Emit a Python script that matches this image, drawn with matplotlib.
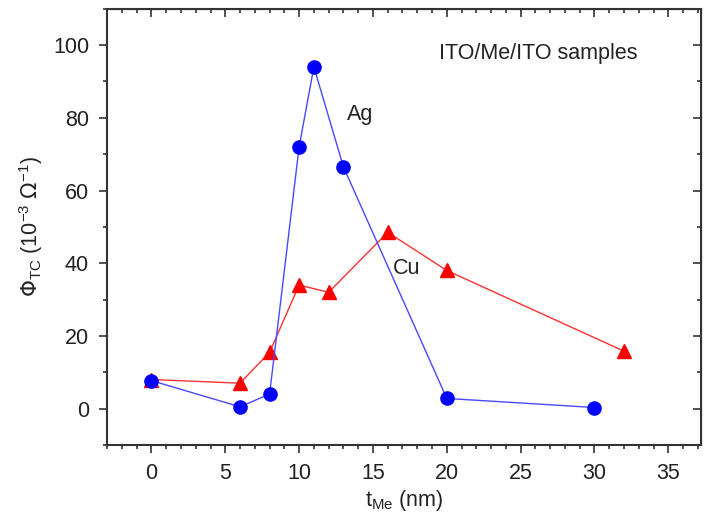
import matplotlib
matplotlib.use("Agg")
import matplotlib.pyplot as plt
from matplotlib.ticker import MultipleLocator

plt.rcParams['font.family'] = ['Liberation Sans', 'DejaVu Sans']

# Ag data (blue circles)
t_ag = [0, 6, 8, 10, 11, 13, 20, 30]
phi_ag = [7.7, 0.5, 4, 72, 94, 66.5, 2.8, 0.3]

# Cu data (red triangles)
t_cu = [0, 6, 8, 10, 12, 16, 20, 32]
phi_cu = [8, 7, 15.5, 34, 32, 48.5, 38, 15.8]

fs = 15.5

fig = plt.figure(figsize=(7.05, 5.15), dpi=100)
ax = fig.add_axes([0.152, 0.136, 0.842, 0.847])

ax.plot(t_cu, phi_cu, "-", color="#ff3030", linewidth=1.0,
        marker="^", markersize=10.5, markerfacecolor="red", markeredgecolor="red")
ax.plot(t_ag, phi_ag, "-", color="#4848ff", linewidth=1.0,
        marker="o", markersize=9.5, markerfacecolor="blue", markeredgecolor="blue")

ax.set_xlim(-3, 37.2)
ax.set_ylim(-10, 110)
ax.xaxis.set_major_locator(MultipleLocator(5))
ax.xaxis.set_minor_locator(MultipleLocator(1))
ax.yaxis.set_minor_locator(MultipleLocator(10))
ax.set_yticks([0, 20, 40, 60, 80, 100])

ax.tick_params(which="both", direction="out", labelsize=fs, width=1.2,
               colors="#333333", labelcolor="#222222")
ax.tick_params(which="major", length=6, pad=7)
ax.tick_params(which="minor", length=3)

# inward ticks on top and right
top = ax.secondary_xaxis("top")
top.xaxis.set_major_locator(MultipleLocator(5))
top.xaxis.set_minor_locator(MultipleLocator(1))
top.tick_params(which="both", direction="in", labeltop=False, width=1.2, colors="#333333")
top.tick_params(which="major", length=6)
top.tick_params(which="minor", length=3)
right = ax.secondary_yaxis("right")
right.yaxis.set_major_locator(MultipleLocator(20))
right.yaxis.set_minor_locator(MultipleLocator(10))
right.tick_params(which="both", direction="in", labelright=False, width=1.2, colors="#333333")
right.tick_params(which="major", length=6)
right.tick_params(which="minor", length=3)

for sp in ax.spines.values():
    sp.set_linewidth(1.5)
    sp.set_color("#333333")

ax.set_xlabel(r"t$_{\mathregular{Me}}$ (nm)", fontsize=fs, labelpad=3, color="#222222")
ax.set_ylabel(r"$\Phi_{\mathregular{TC}}$ (10$^{\mathregular{-3}}$ $\Omega^{\mathregular{-1}}$)",
              fontsize=fs, labelpad=6, color="#222222")

ax.text(14.1, 81, "Ag", fontsize=fs, ha="center", va="center", color="#222222")
ax.text(17.3, 38.5, "Cu", fontsize=fs, ha="center", va="center", color="#222222")
ax.text(26.2, 97.8, "ITO/Me/ITO samples", fontsize=fs, ha="center", va="center", color="#222222")

fig.savefig("out.png", dpi=100)
